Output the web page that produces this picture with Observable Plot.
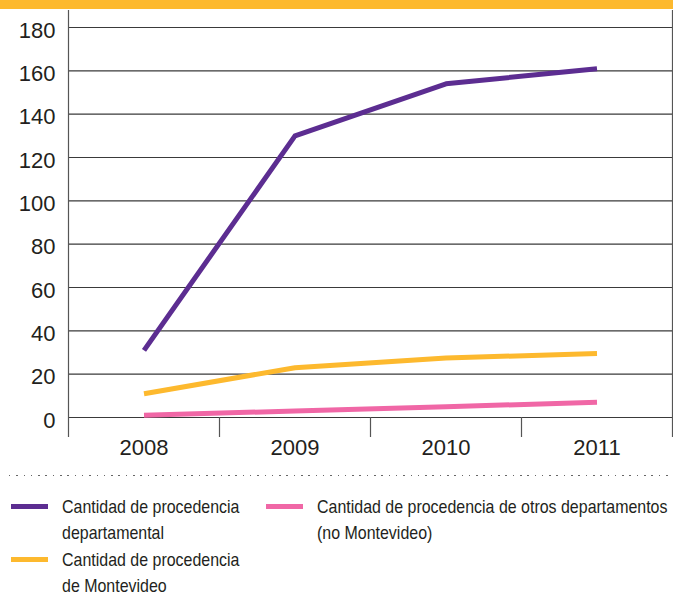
<!DOCTYPE html>
<html>
<head>
<meta charset="utf-8">
<script src="https://cdn.jsdelivr.net/npm/d3@7"></script>
<script src="https://cdn.jsdelivr.net/npm/@observablehq/plot@0.6"></script>
<style>
  html, body { margin: 0; padding: 0; background: #fff; }
  body { width: 673px; height: 597px; overflow: hidden; font-family: "Liberation Sans", Arial, sans-serif; color: #231f20; }
  #band { height: 9px; background: #fdb92e; }
  #chart svg { display: block; }
  #dots { margin: 6px 0 0 9px; height: 1px; background: repeating-linear-gradient(to right, #666 0 1.5px, transparent 1.5px 7.3px); }
  #legend { position: relative; height: 110px; margin-top: 18px; font-family: "Liberation Sans", Arial, sans-serif; font-size: 19px; line-height: 25.5px; color: #231f20; }
  .item { position: absolute; display: flex; align-items: flex-start; }
  .sw { width: 37px; height: 5px; margin-top: 10px; margin-right: 14px; flex: none; }
  .tx { white-space: nowrap; transform: scaleX(0.84); transform-origin: 0 0; }
</style>
</head>
<body>
<div id="band"></div>
<div id="chart"></div>
<div id="dots"></div>
<div id="legend"></div>
<script>
const years = [2008, 2009, 2010, 2011];
const seriesNames = [
  "Cantidad de procedencia departamental",
  "Cantidad de procedencia de Montevideo",
  "Cantidad de procedencia de otros departamentos (no Montevideo)"
];
const legendLines = [
  ["Cantidad de procedencia", "departamental"],
  ["Cantidad de procedencia", "de Montevideo"],
  ["Cantidad de procedencia de otros departamentos", "(no Montevideo)"]
];
const departamental = [31, 130, 154, 161];
const montevideo = [11, 23, 27.5, 29.5];
const otros = [1, 3, 5, 7];
const yTicks = [0, 20, 40, 60, 80, 100, 120, 140, 160, 180];
const colors = ["#5c2d91", "#fdb92e", "#f067a6"];

const seriesValues = [departamental, montevideo, otros];
const rows = [];
seriesValues.forEach((vals, s) => years.forEach((yr, i) => rows.push({series: seriesNames[s], year: yr, value: vals[i]})));
const bounds = years.map(y => y - 0.5).concat([years[years.length - 1] + 0.5]);
const outer = [bounds[0], bounds[bounds.length - 1]];
const inner = bounds.slice(1, -1);

const plot = Plot.plot({
  width: 673,
  height: 460,
  marginLeft: 68,
  marginRight: 1,
  marginTop: 18,
  marginBottom: 52,
  style: {fontFamily: "'Liberation Sans', Arial, sans-serif", color: "#231f20", background: "#fff"},
  x: {type: "linear", domain: [bounds[0], bounds[bounds.length - 1]]},
  y: {domain: [0, 180]},
  color: {domain: seriesNames, range: colors},
  marks: [
    Plot.ruleY(yTicks, {stroke: "#3a3a3a", strokeWidth: 1.2}),
    Plot.ruleX(outer, {stroke: "#555", strokeWidth: 1.2, insetTop: -17, insetBottom: -20}),
    Plot.ruleX(inner, {stroke: "#555", strokeWidth: 1.2, insetTop: 390, insetBottom: -20}),
    Plot.axisY({ticks: yTicks, tickSize: 0, tickPadding: 13, fontSize: 22, dy: 3, label: null, fill: "#231f20"}),
    Plot.axisX({ticks: years, tickSize: 0, tickPadding: 22, fontSize: 22, label: null, tickFormat: d => String(d), fill: "#231f20"}),
    Plot.line(rows, {x: "year", y: "value", z: "series", stroke: "series", strokeWidth: 5, strokeLinecap: "butt", strokeLinejoin: "round"})
  ]
});
document.getElementById("chart").appendChild(plot);

const pos = [{left: 11, top: 0}, {left: 11, top: 53}, {left: 266, top: 0}];
const legend = document.getElementById("legend");
[0, 1, 2].forEach(i => {
  const it = document.createElement("div");
  it.className = "item";
  it.style.left = pos[i].left + "px";
  it.style.top = pos[i].top + "px";
  const sw = document.createElement("div");
  sw.className = "sw";
  sw.style.background = colors[i];
  const tx = document.createElement("div");
  tx.className = "tx";
  tx.innerHTML = legendLines[i].join("<br>");
  it.appendChild(sw);
  it.appendChild(tx);
  legend.appendChild(it);
});
</script>
</body>
</html>
